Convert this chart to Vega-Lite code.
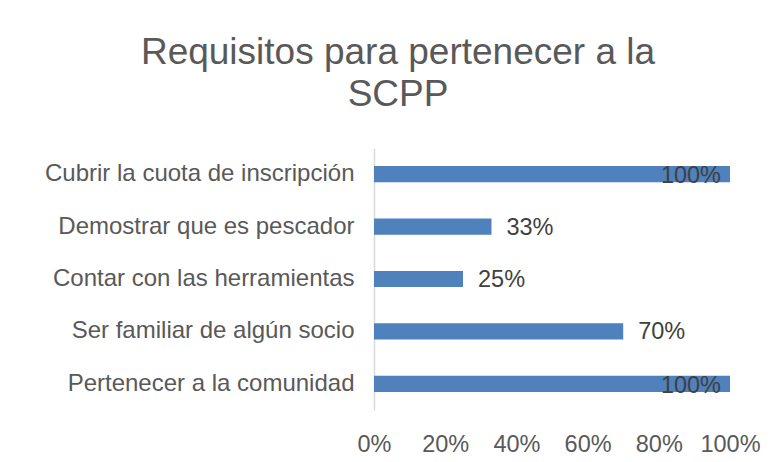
{
  "$schema": "https://vega.github.io/schema/vega-lite/v6.json",
  "width": 356,
  "height": 262,
  "autosize": {"type": "none"},
  "padding": {"left": 374, "top": 148, "right": 45, "bottom": 52},
  "background": "#ffffff",
  "config": {
    "font": "Liberation Sans",
    "view": {"stroke": null}
  },
  "title": {
    "text": ["Requisitos para pertenecer a la", "SCPP"],
    "anchor": "middle",
    "frame": "group",
    "dx": -154,
    "offset": 34,
    "fontSize": 37,
    "fontWeight": "normal",
    "lineHeight": 42,
    "color": "#595959",
    "font": "Liberation Sans"
  },
  "data": {
    "values": [
      {"req": "Cubrir la cuota de inscripción", "pct": 1.0},
      {"req": "Demostrar que es pescador", "pct": 0.33},
      {"req": "Contar con las herramientas\u2002", "pct": 0.25},
      {"req": "Ser familiar de algún socio", "pct": 0.70},
      {"req": "Pertenecer a la comunidad", "pct": 1.0}
    ]
  },
  "encoding": {
    "y": {
      "field": "req",
      "type": "nominal",
      "sort": null,
      "scale": {"paddingInner": 0.69, "paddingOuter": 0.345},
      "axis": {
        "title": null,
        "ticks": false,
        "domainColor": "#D9D9D9",
        "domainWidth": 1.5,
        "labelFontSize": 24,
        "labelColor": "#595959",
        "labelPadding": 20,
        "labelLimit": 400,
        "grid": false
      }
    },
    "x": {
      "field": "pct",
      "type": "quantitative",
      "scale": {"domain": [0, 1]},
      "axis": {
        "title": null,
        "format": ".0%",
        "values": [0, 0.2, 0.4, 0.6, 0.8, 1],
        "domain": false,
        "ticks": false,
        "grid": false,
        "labelFontSize": 23.5,
        "labelColor": "#595959",
        "labelPadding": 22,
        "labelFlush": false
      }
    }
  },
  "layer": [
    {"mark": {"type": "bar", "color": "#4F81BD"}},
    {
      "transform": [{"filter": "datum.pct < 1"}],
      "mark": {"type": "text", "align": "left", "baseline": "middle", "dx": 15, "dy": 1, "fontSize": 23.5, "color": "#404040"},
      "encoding": {"text": {"field": "pct", "type": "quantitative", "format": ".0%"}}
    },
    {
      "transform": [{"filter": "datum.pct >= 1"}],
      "mark": {"type": "text", "align": "right", "baseline": "middle", "dx": -9, "dy": 2, "fontSize": 23.5, "color": "#404040"},
      "encoding": {"text": {"field": "pct", "type": "quantitative", "format": ".0%"}}
    }
  ]
}
